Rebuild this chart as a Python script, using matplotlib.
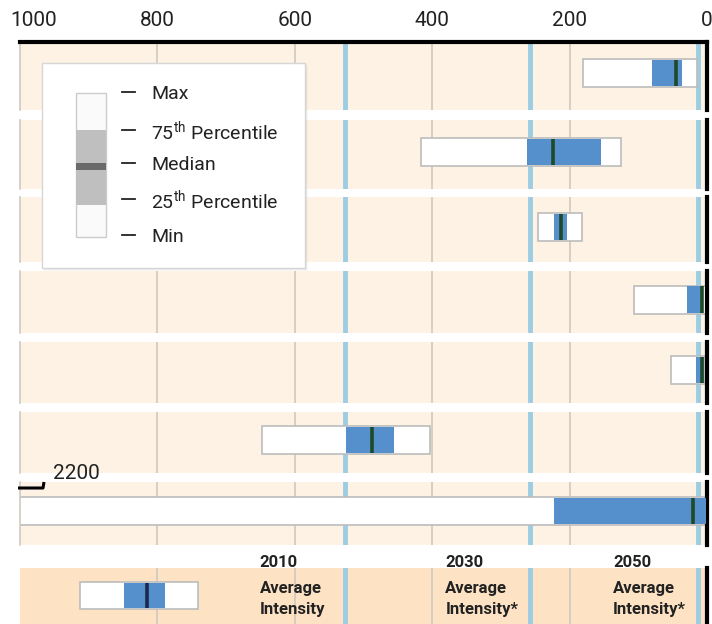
import matplotlib.pyplot as plt
from matplotlib.patches import Rectangle
from matplotlib.lines import Line2D
from matplotlib.transforms import ScaledTranslation

plt.rcParams['font.family'] = ['Roboto', 'DejaVu Sans']
plt.rcParams['mathtext.fontset'] = 'custom'
plt.rcParams['mathtext.rm'] = 'Roboto'

# --- data (rows top to bottom) ---
row_min = [15, 125, 182, 0, 3, 403, 0]
row_p25 = [36, 154, 204, 6, 4, 456, 2]
row_median = [45, 224, 213, 8, 7, 488, 20]
row_p75 = [80, 262, 223, 29, 16, 525, 223]
row_max = [180, 416, 246, 106, 52, 648, 2200]

avg_years = ['2010', '2030', '2050']
avg_values = [527, 257, 13]
avg_star = ['', '*', '*']

# example box in the key strip
key_box = [741, 789, 815, 849, 913]

xticks = [1000, 800, 600, 400, 200, 0]
legend_labels = ['Max', '75$^{\\rm th}$ Percentile', 'Median',
                 '25$^{\\rm th}$ Percentile', 'Min']

# --- colours ---
band_col = '#fdf2e4'
key_col = '#fde3c3'
grid_col = '#cfc9c1'
avg_col = '#9dcde3'
box_col = '#5590cc'
med_col = '#1f4a28'
edge_col = '#bcbcbc'
text_col = '#222222'

W, H = 712, 624
fig = plt.figure(figsize=(W / 100, H / 100), dpi=100)


def px_axes(x0, y0, x1, y1):
    return fig.add_axes([x0 / W, 1 - y1 / H, (x1 - x0) / W, (y1 - y0) / H])


def style_axes(ax, face):
    ax.set_xlim(1000, 0)
    ax.set_ylim(0, 1)
    ax.set_facecolor(face)
    ax.set_yticks([])
    ax.set_xticks([])
    for v in [800, 600, 400, 200]:
        ax.axvline(v, color=grid_col, lw=1.2, zorder=0.5)
    for v in avg_values:
        ax.axvline(v, color=avg_col, lw=3.5, zorder=0.6)
    ax.spines['bottom'].set_visible(False)
    ax.spines['top'].set_visible(False)
    ax.spines['left'].set_color(grid_col)
    ax.spines['left'].set_linewidth(1.2)
    ax.spines['right'].set_color('black')
    ax.spines['right'].set_linewidth(3)


def draw_box(ax, lo, q1, med, q3, hi, yc, h, mcol):
    ax.barh(yc, hi - lo, left=lo, height=h, color='white',
            edgecolor=edge_col, linewidth=1.2, zorder=2)
    ax.barh(yc, q3 - q1, left=q1, height=h * 0.94, color=box_col,
            linewidth=0, zorder=3)
    ax.vlines(med, yc - h / 2 * 0.94, yc + h / 2 * 0.94, color=mcol,
              lw=2.6, zorder=4)


row_bands = [(42, 110), (120, 189), (197, 262), (271, 333),
             (342, 403), (412, 473), (482, 545)]

for i, (top, bot) in enumerate(row_bands):
    ax = px_axes(20, top, 707, bot)
    style_axes(ax, band_col)
    band_h = bot - top
    draw_box(ax, row_min[i], row_p25[i], row_median[i], row_p75[i],
             row_max[i], 0.54, 28 / band_h, med_col)
    if i == 0:
        ax.spines['top'].set_visible(True)
        ax.spines['top'].set_color('black')
        ax.spines['top'].set_linewidth(3)
        ax.xaxis.tick_top()
        ax.set_xticks(xticks)
        ax.set_xticklabels([str(t) for t in xticks])
        ax.tick_params(axis='x', length=0, pad=9, labelsize=15,
                       labelcolor=text_col)
        # first label sits inside the figure, starting near the left edge
        first = ax.get_xticklabels()[0]
        first.set_ha('left')
        first.set_transform(first.get_transform() +
                            ScaledTranslation(-0.10, 0, fig.dpi_scale_trans))
    if i == len(row_bands) - 1:
        # axis break label for the 2200 maximum
        ax.text(0.048, 1.13, str(row_max[i]), transform=ax.transAxes,
                fontsize=15, va='center', ha='left', color=text_col,
                clip_on=False)

# --- key strip at the bottom ---
kax = px_axes(20, 568, 707, 624)
style_axes(kax, key_col)
kax.spines['left'].set_visible(False)
draw_box(kax, *key_box, 0.51, 0.48, '#1b2850')
line_y = [(624 - 567) / 56, (624 - 593) / 56, (624 - 614) / 56]
for yr, v, st in zip(avg_years, avg_values, avg_star):
    for y, s in zip(line_y, [yr, 'Average', 'Intensity' + st]):
        kax.text(v + 124, y, s, ha='left', va='baseline', fontsize=12,
                 fontweight='bold', color=text_col, clip_on=False)

# --- overlay: legend card and break bracket (pixel coordinates) ---
ov = fig.add_axes([0, 0, 1, 1], zorder=10)
ov.set_xlim(0, W)
ov.set_ylim(H, 0)
ov.axis('off')
ov.patch.set_alpha(0)

ov.add_line(Line2D([18, 43, 44], [488, 488, 482], color='black', lw=2.2,
                   solid_capstyle='butt'))

for k, a in enumerate([0.05, 0.04, 0.03]):
    ov.add_patch(Rectangle((42 + k, 63 + k), 263 + 1, 205 + 1,
                           fc='black', alpha=a, lw=0))
ov.add_patch(Rectangle((42, 63), 263, 205, fc='white', ec='#d6d6d6', lw=1))
ov.add_patch(Rectangle((76, 93), 30, 144, fc='#fafafa', ec='#cccccc', lw=1))
ov.add_patch(Rectangle((76, 130), 30, 75, fc='#bfbfbf', lw=0))
ov.add_patch(Rectangle((76, 163), 30, 7, fc='#6a6a6a', lw=0))
for y, lab in zip([92, 130, 163, 199, 235], legend_labels):
    ov.add_line(Line2D([122, 135], [y, y], color=text_col, lw=1.3))
    ov.text(151, y, lab, fontsize=14, va='center_baseline', ha='left',
            color=text_col)

fig.savefig('out.png', dpi=100)
